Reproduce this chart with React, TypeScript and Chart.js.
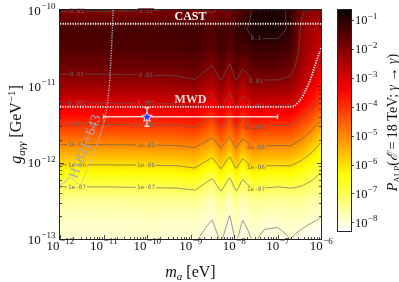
import React, { useEffect, useRef } from "react";
import { Chart, registerables } from "chart.js";

Chart.register(...registerables);

const SERIF = "'Liberation Serif', 'DejaVu Serif', serif";

// ---------- axes / colour scale ----------
const massTickExps = [-12, -11, -10, -9, -8, -7, -6];
const couplingTickExps = [-13, -12, -11, -10];
const colorbarTickExps = [-1, -2, -3, -4, -5, -6, -7, -8];
const colorMinLog = -8.3;
const colorMaxLog = -0.65;

// ---------- contours ----------
const contourLevelsLog = [-1, -2, -3, -4, -5, -6, -7, -8];
const contourLabelTexts = ["0.1", "0.01", "0.001", "0.0001", "1e-05", "1e-06", "1e-07", "1e-08"];
const contourLabelMassLog = [-11.62, -10.02, -7.5];

// ---------- probability grid (log10 P), one row per mass column, low g -> high g ----------
const gridCouplingLog = [-13, -12.75, -12.5, -12.25, -12, -11.75, -11.5, -11.25, -11, -10.75, -10.5, -10.25, -10];
const gridMassLog = [-12, -11, -10, -9.3, -8.9, -8.5, -8.3, -8.1, -7.95, -7.8, -7.55, -7.3, -7.0, -6.7, -6.45, -6.2, -6.0];
const gridProbLog = [
  [-7.97, -7.85, -7.55, -6.8, -5.9, -4.95, -4.0, -3.1, -2.35, -1.8, -1.45, -1.35, -2.05],
  [-7.97, -7.85, -7.55, -6.8, -5.9, -4.95, -4.0, -3.1, -2.35, -1.8, -1.45, -1.35, -2.05],
  [-7.95, -7.8, -7.5, -6.78, -5.88, -4.93, -3.98, -3.08, -2.33, -1.78, -1.43, -1.33, -2.03],
  [-7.99, -7.85, -7.5, -6.75, -5.85, -4.9, -3.95, -3.05, -2.3, -1.75, -1.4, -1.3, -2.0],
  [-7.95, -7.8, -7.45, -6.65, -5.75, -4.8, -3.85, -2.95, -2.2, -1.65, -1.35, -1.25, -1.95],
  [-8.2, -8.0, -7.8, -7.15, -6.25, -5.3, -4.35, -3.45, -2.65, -2.05, -1.6, -1.45, -2.1],
  [-7.95, -7.75, -7.4, -6.6, -5.7, -4.75, -3.8, -2.9, -2.15, -1.6, -1.3, -1.2, -1.9],
  [-8.25, -8.05, -7.85, -7.2, -6.3, -5.35, -4.4, -3.5, -2.7, -2.1, -1.6, -1.4, -2.0],
  [-7.95, -7.75, -7.4, -6.6, -5.7, -4.75, -3.8, -2.9, -2.15, -1.6, -1.25, -1.1, -1.7],
  [-8.2, -8.0, -7.75, -7.1, -6.2, -5.25, -4.3, -3.4, -2.6, -1.95, -1.4, -1.1, -1.4],
  [-7.95, -7.8, -7.45, -6.65, -5.75, -4.8, -3.85, -2.95, -2.15, -1.55, -1.15, -0.85, -0.9],
  [-8.1, -7.9, -7.5, -6.75, -5.85, -4.9, -3.95, -3.0, -2.2, -1.6, -1.2, -0.8, -0.85],
  [-8.15, -7.9, -7.55, -6.8, -5.85, -4.9, -3.95, -3.0, -2.2, -1.6, -1.2, -0.8, -0.85],
  [-8.0, -7.8, -7.5, -6.75, -5.85, -4.9, -3.95, -3.05, -2.3, -1.75, -1.35, -1.1, -1.1],
  [-8.15, -7.85, -7.5, -6.85, -6.1, -5.2, -4.3, -3.45, -2.8, -2.4, -2.2, -2.1, -1.9],
  [-8.3, -7.95, -7.6, -7.05, -6.45, -5.65, -4.75, -3.85, -3.2, -2.8, -2.6, -2.4, -2.2],
  [-8.4, -8.05, -7.7, -7.25, -6.75, -6.05, -5.2, -4.3, -3.7, -3.2, -2.85, -2.55, -2.3],
];

// ---------- limits ----------
const castMass = [1e-12, 1e-6];
const castCoupling = [6.6e-11, 6.6e-11];
const castLabelMass = 1e-9;

const mwdMass = [1e-12, 1.9e-7, 2.51e-7, 3.31e-7, 4.37e-7, 5.62e-7, 7.24e-7, 1e-6];
const mwdCoupling = [5.4e-12, 5.4e-12, 5.6e-12, 6.6e-12, 8.7e-12, 1.2e-11, 1.86e-11, 3.16e-11];
const mwdLabelMass = 1e-9;

const h1821Mass = [1.66e-11, 1.48e-11, 1.26e-11, 9.8e-12, 6.3e-12, 4.0e-12, 2.9e-12, 2.2e-12, 1.7e-12, 1.38e-12, 1e-12];
const h1821Coupling = [1e-10, 2.21e-11, 6.6e-12, 3.1e-12, 1.48e-12, 7.6e-13, 5.1e-13, 5.75e-13, 6.5e-13, 5.75e-13, 5.1e-13];
const h1821LabelMass = 3.8e-12;
const h1821LabelCoupling = 1.62e-12;

// ---------- best-fit point ----------
const starMass = [1e-10];
const starCoupling = [4e-12];
const starMassErr = [1e-11, 1e-7];
const starCouplingErr = [3.0e-12, 5.2e-12];

function hotR(logP: number): [number, number, number] {
  let t = (logP - colorMinLog) / (colorMaxLog - colorMinLog);
  t = Math.max(0, Math.min(1, t));
  const v = 1 - t;
  const r = v < 0.365079 ? 0.0416 + (1 - 0.0416) * v / 0.365079 : 1;
  const g = v < 0.365079 ? 0 : v < 0.746032 ? (v - 0.365079) / (0.746032 - 0.365079) : 1;
  const b = v < 0.746032 ? 0 : (v - 0.746032) / (1 - 0.746032);
  return [Math.round(r * 255), Math.round(g * 255), Math.round(b * 255)];
}

function locate(arr: number[], v: number): [number, number] {
  if (v <= arr[0]) return [0, 0];
  const n = arr.length;
  if (v >= arr[n - 1]) return [n - 2, 1];
  let k = 0;
  while (k < n - 2 && v > arr[k + 1]) k++;
  return [k, (v - arr[k]) / (arr[k + 1] - arr[k])];
}

function sampleGrid(lm: number, lg: number): number {
  const [i, tx] = locate(gridMassLog, lm);
  const [j, ty] = locate(gridCouplingLog, lg);
  const a = gridProbLog[i][j], b = gridProbLog[i + 1][j];
  const c = gridProbLog[i][j + 1], d = gridProbLog[i + 1][j + 1];
  return (a * (1 - tx) + b * tx) * (1 - ty) + (c * (1 - tx) + d * tx) * ty;
}

function makeStar(): HTMLCanvasElement {
  const c = document.createElement("canvas");
  c.width = 14; c.height = 14;
  const g = c.getContext("2d")!;
  const cx = 7, cy = 7.3, R = 5.6, r = 2.4;
  g.beginPath();
  for (let k = 0; k < 10; k++) {
    const ang = -Math.PI / 2 + (k * Math.PI) / 5;
    const rad = k % 2 === 0 ? R : r;
    g.lineTo(cx + rad * Math.cos(ang), cy + rad * Math.sin(ang));
  }
  g.closePath();
  g.fillStyle = "#2a3cff";
  g.fill();
  g.strokeStyle = "rgba(255,225,225,1)";
  g.lineWidth = 1;
  g.stroke();
  return c;
}

function drawPow(ctx: CanvasRenderingContext2D, exp: number, x: number, y: number, align: string, baseSize: number) {
  const supSize = baseSize * 0.7;
  const base = "10";
  const sup = (exp < 0 ? "\u2212" : "") + Math.abs(exp);
  ctx.font = `${baseSize}px ${SERIF}`;
  const wb = ctx.measureText(base).width;
  ctx.font = `${supSize}px ${SERIF}`;
  const ws = ctx.measureText(sup).width;
  const total = wb + ws;
  const x0 = align === "center" ? x - total / 2 : align === "right" ? x - total : x;
  ctx.textAlign = "left";
  ctx.textBaseline = "alphabetic";
  ctx.font = `${baseSize}px ${SERIF}`;
  ctx.fillText(base, x0, y);
  ctx.font = `${supSize}px ${SERIF}`;
  ctx.fillText(sup, x0 + wb + 0.5, y - baseSize * 0.42);
}

type Run = { t: string; size: number; style?: string; dy?: number };
function drawRuns(ctx: CanvasRenderingContext2D, runs: Run[], cx: number, y: number) {
  let total = 0;
  const widths = runs.map((r) => {
    ctx.font = `${r.style || ""} ${r.size}px ${SERIF}`;
    const w = ctx.measureText(r.t).width;
    total += w;
    return w;
  });
  let x = cx - total / 2;
  ctx.textAlign = "left";
  ctx.textBaseline = "alphabetic";
  runs.forEach((r, k) => {
    ctx.font = `${r.style || ""} ${r.size}px ${SERIF}`;
    ctx.fillText(r.t, x, y + (r.dy || 0));
    x += widths[k];
  });
}

const fieldPlugin = {
  id: "field",
  beforeDatasetsDraw(chart: any) {
    const { ctx, chartArea: a, scales } = chart;
    const xs = scales.x, ys = scales.y;
    const L = Math.round(a.left), T = Math.round(a.top);
    const w = Math.round(a.right) - L, h = Math.round(a.bottom) - T;
    const field = new Float32Array(w * h);
    const lms = new Float32Array(w);
    for (let i = 0; i < w; i++) lms[i] = Math.log10(xs.getValueForPixel(L + i + 0.5));
    for (let j = 0; j < h; j++) {
      const lg = Math.log10(ys.getValueForPixel(T + j + 0.5));
      for (let i = 0; i < w; i++) field[j * w + i] = sampleGrid(lms[i], lg);
    }
    const off = document.createElement("canvas");
    off.width = w; off.height = h;
    const octx = off.getContext("2d")!;
    const img = octx.createImageData(w, h);
    for (let k = 0; k < w * h; k++) {
      const [r, g, b] = hotR(field[k]);
      img.data[k * 4] = r; img.data[k * 4 + 1] = g; img.data[k * 4 + 2] = b; img.data[k * 4 + 3] = 255;
    }
    octx.putImageData(img, 0, 0);
    ctx.save();
    ctx.drawImage(off, L, T);

    // contours (marching squares)
    ctx.strokeStyle = "rgba(95,95,95,0.9)";
    ctx.lineWidth = 0.8;
    for (const lev of contourLevelsLog) {
      ctx.beginPath();
      for (let j = 0; j < h - 1; j++) {
        for (let i = 0; i < w - 1; i++) {
          const v00 = field[j * w + i], v10 = field[j * w + i + 1];
          const v01 = field[(j + 1) * w + i], v11 = field[(j + 1) * w + i + 1];
          const s00 = v00 >= lev, s10 = v10 >= lev, s01 = v01 >= lev, s11 = v11 >= lev;
          if (s00 === s10 && s00 === s01 && s00 === s11) continue;
          const pts: number[][] = [];
          const x0 = L + i + 0.5, y0 = T + j + 0.5;
          if (s00 !== s10) pts.push([x0 + (lev - v00) / (v10 - v00), y0]);
          if (s10 !== s11) pts.push([x0 + 1, y0 + (lev - v10) / (v11 - v10)]);
          if (s01 !== s11) pts.push([x0 + (lev - v01) / (v11 - v01), y0 + 1]);
          if (s00 !== s01) pts.push([x0, y0 + (lev - v00) / (v01 - v00)]);
          for (let p = 0; p + 1 < pts.length; p += 2) {
            ctx.moveTo(pts[p][0], pts[p][1]);
            ctx.lineTo(pts[p + 1][0], pts[p + 1][1]);
          }
        }
      }
      ctx.stroke();
    }

    // contour labels
    ctx.font = "6px 'DejaVu Sans Mono', monospace";
    ctx.textAlign = "center";
    ctx.textBaseline = "middle";
    for (const lm of contourLabelMassLog) {
      const px = Math.round(xs.getPixelForValue(Math.pow(10, lm))) - L;
      if (px < 0 || px >= w) continue;
      contourLevelsLog.forEach((lev, li) => {
        for (let j = 0; j < h - 1; j++) {
          const va = field[j * w + px], vb = field[(j + 1) * w + px];
          if ((va >= lev) !== (vb >= lev)) {
            const yy = T + j + 0.5 + (lev - va) / (vb - va);
            const txt = contourLabelTexts[li];
            const tw = ctx.measureText(txt).width + 2;
            const [r, g, b] = hotR(lev);
            ctx.fillStyle = `rgb(${r},${g},${b})`;
            ctx.fillRect(L + px - tw / 2, yy - 2.5, tw, 5);
            ctx.fillStyle = "rgba(105,105,105,0.95)";
            ctx.fillText(txt, L + px, yy + 0.3);
          }
        }
      });
    }

    // error bars of best-fit point
    ctx.strokeStyle = "rgba(255,232,232,0.9)";
    ctx.lineWidth = 1.4;
    const sx = xs.getPixelForValue(starMass[0]);
    const sy = ys.getPixelForValue(starCoupling[0]);
    const xl = xs.getPixelForValue(starMassErr[0]);
    const xr = xs.getPixelForValue(starMassErr[1]);
    const yb = ys.getPixelForValue(starCouplingErr[0]);
    const yt = ys.getPixelForValue(starCouplingErr[1]);
    ctx.beginPath();
    ctx.moveTo(xl, sy); ctx.lineTo(xr, sy);
    ctx.moveTo(xl, sy - 2.5); ctx.lineTo(xl, sy + 2.5);
    ctx.moveTo(xr, sy - 2.5); ctx.lineTo(xr, sy + 2.5);
    ctx.moveTo(sx, yt); ctx.lineTo(sx, yb);
    ctx.moveTo(sx - 2.5, yt); ctx.lineTo(sx + 2.5, yt);
    ctx.moveTo(sx - 2.5, yb); ctx.lineTo(sx + 2.5, yb);
    ctx.stroke();
    ctx.restore();
  },
  afterDraw(chart: any) {
    const { ctx, chartArea: a, scales } = chart;
    const xs = scales.x, ys = scales.y;
    ctx.save();

    ctx.fillStyle = "#ffffff";
    ctx.font = `bold 12px ${SERIF}`;
    ctx.textAlign = "center";
    ctx.textBaseline = "alphabetic";
    ctx.fillText("CAST", xs.getPixelForValue(castLabelMass), ys.getPixelForValue(castCoupling[0]) - 4);
    ctx.fillStyle = "rgba(255,236,230,0.92)";
    ctx.fillText("MWD", xs.getPixelForValue(mwdLabelMass), ys.getPixelForValue(mwdCoupling[0]) - 4);

    ctx.save();
    ctx.translate(xs.getPixelForValue(h1821LabelMass), ys.getPixelForValue(h1821LabelCoupling));
    ctx.rotate((-69 * Math.PI) / 180);
    ctx.fillStyle = "#a3abbf";
    ctx.font = `14px ${SERIF}`;
    ctx.textAlign = "center";
    ctx.textBaseline = "middle";
    ctx.fillText("H1821+643", 0, 0);
    ctx.restore();

    // frame
    ctx.strokeStyle = "#222";
    ctx.lineWidth = 1;
    ctx.strokeRect(Math.round(a.left) - 0.5, Math.round(a.top) - 0.5, Math.round(a.right - a.left) + 1, Math.round(a.bottom - a.top) + 1);

    // ticks (inward, all sides)
    ctx.lineWidth = 0.8;
    ctx.beginPath();
    for (let k = 0; k < massTickExps.length; k++) {
      const e = massTickExps[k];
      for (let m = 1; m <= 9; m++) {
        if (m > 1 && k === massTickExps.length - 1) break;
        const px = Math.round(xs.getPixelForValue(m * Math.pow(10, e))) + 0.5;
        const len = m === 1 ? 4 : 2;
        ctx.moveTo(px, a.bottom); ctx.lineTo(px, a.bottom - len);
        ctx.moveTo(px, a.top); ctx.lineTo(px, a.top + len);
      }
    }
    for (let k = 0; k < couplingTickExps.length; k++) {
      const e = couplingTickExps[k];
      for (let m = 1; m <= 9; m++) {
        if (m > 1 && k === couplingTickExps.length - 1) break;
        const py = Math.round(ys.getPixelForValue(m * Math.pow(10, e))) + 0.5;
        const len = m === 1 ? 4 : 2;
        ctx.moveTo(a.left, py); ctx.lineTo(a.left + len, py);
        ctx.moveTo(a.right, py); ctx.lineTo(a.right - len, py);
      }
    }
    ctx.stroke();

    // tick labels
    ctx.fillStyle = "#111";
    for (const e of massTickExps) drawPow(ctx, e, xs.getPixelForValue(Math.pow(10, e)), 249.5, "center", 13);
    for (const e of couplingTickExps) drawPow(ctx, e, 55, ys.getPixelForValue(Math.pow(10, e)) + 4.5, "right", 13);

    // axis titles
    drawRuns(ctx, [
      { t: "m", size: 16, style: "italic" },
      { t: "a", size: 11, style: "italic", dy: 3 },
      { t: " [eV]", size: 16 },
    ], (a.left + a.right) / 2, 277);

    ctx.save();
    ctx.translate(21, (a.top + a.bottom) / 2);
    ctx.rotate(-Math.PI / 2);
    drawRuns(ctx, [
      { t: "g", size: 16, style: "italic" },
      { t: "a\u03b3\u03b3", size: 11, style: "italic", dy: 3.5 },
      { t: " [GeV", size: 16 },
      { t: "\u22121", size: 11, dy: -6.5 },
      { t: "]", size: 16 },
    ], 0, 0);
    ctx.restore();

    // colorbar
    const cbL = 338, cbR = 351, cbT = 10, cbB = 231;
    for (let y = cbT; y < cbB; y++) {
      const lp = colorMaxLog - ((y + 0.5 - cbT) / (cbB - cbT)) * (colorMaxLog - colorMinLog);
      const [r, g, b] = hotR(lp);
      ctx.fillStyle = `rgb(${r},${g},${b})`;
      ctx.fillRect(cbL, y, cbR - cbL, 1);
    }
    ctx.strokeStyle = "#222";
    ctx.lineWidth = 1;
    ctx.strokeRect(cbL - 0.5, cbT - 0.5, cbR - cbL + 1, cbB - cbT + 1);
    ctx.fillStyle = "#111";
    ctx.beginPath();
    ctx.lineWidth = 0.8;
    for (const e of colorbarTickExps) {
      const py = cbT + ((colorMaxLog - e) / (colorMaxLog - colorMinLog)) * (cbB - cbT);
      ctx.moveTo(cbR, Math.round(py) + 0.5); ctx.lineTo(cbR + 3, Math.round(py) + 0.5);
      drawPow(ctx, e, 355, py + 4.3, "left", 12.5);
    }
    ctx.stroke();

    ctx.save();
    ctx.translate(397, (cbT + cbB) / 2 + 2);
    ctx.rotate(-Math.PI / 2);
    ctx.fillStyle = "#111";
    drawRuns(ctx, [
      { t: "P", size: 14, style: "italic" },
      { t: "ALP", size: 9, dy: 3 },
      { t: "(", size: 14 },
      { t: "\u2130", size: 14, style: "italic" },
      { t: " = 18 TeV; ", size: 14 },
      { t: "\u03b3", size: 14, style: "italic" },
      { t: " \u2192 ", size: 14 },
      { t: "\u03b3", size: 14, style: "italic" },
      { t: ")", size: 14 },
    ], 0, 0);
    ctx.restore();

    ctx.restore();
  },
};

export default function App() {
  const ref = useRef<HTMLCanvasElement | null>(null);
  useEffect(() => {
    if (!ref.current) return;
    const star = makeStar();
    const chart = new Chart(ref.current, {
      type: "scatter",
      data: {
        datasets: [
          {
            label: "best fit",
            data: starMass.map((m, i) => ({ x: m, y: starCoupling[i] })),
            pointStyle: star as any,
            pointRadius: 6,
            showLine: false,
          },
          {
            label: "CAST",
            data: castMass.map((m, i) => ({ x: m, y: castCoupling[i] })),
            showLine: true,
            borderColor: "#ffffff",
            borderWidth: 1.8,
            borderDash: [1.2, 1.3],
            pointRadius: 0,
          },
          {
            label: "MWD",
            data: mwdMass.map((m, i) => ({ x: m, y: mwdCoupling[i] })),
            showLine: true,
            borderColor: "#ffffff",
            borderWidth: 1.8,
            borderDash: [1.2, 1.3],
            pointRadius: 0,
            tension: 0.3,
          },
          {
            label: "H1821+643",
            data: h1821Mass.map((m, i) => ({ x: m, y: h1821Coupling[i] })),
            showLine: true,
            borderColor: "#b0b8cc",
            borderWidth: 1.4,
            borderDash: [1.2, 1.3],
            pointRadius: 0,
            tension: 0.3,
          },
        ],
      },
      options: {
        animation: false,
        responsive: false,
        devicePixelRatio: 1,
        layout: { padding: { left: 60, right: 78, top: 10, bottom: 43 } },
        plugins: { legend: { display: false }, tooltip: { enabled: false } },
        scales: {
          x: { type: "logarithmic", min: 1e-12, max: 1e-6, display: false },
          y: { type: "logarithmic", min: 1e-13, max: 1e-10, display: false },
        },
      },
      plugins: [fieldPlugin],
    });
    return () => chart.destroy();
  }, []);
  return (
    <div style={{ position: "fixed", left: 0, top: 0, width: 399, height: 282, background: "#fff" }}>
      <canvas ref={ref} width={399} height={282} style={{ display: "block", width: 399, height: 282 }} />
    </div>
  );
}
